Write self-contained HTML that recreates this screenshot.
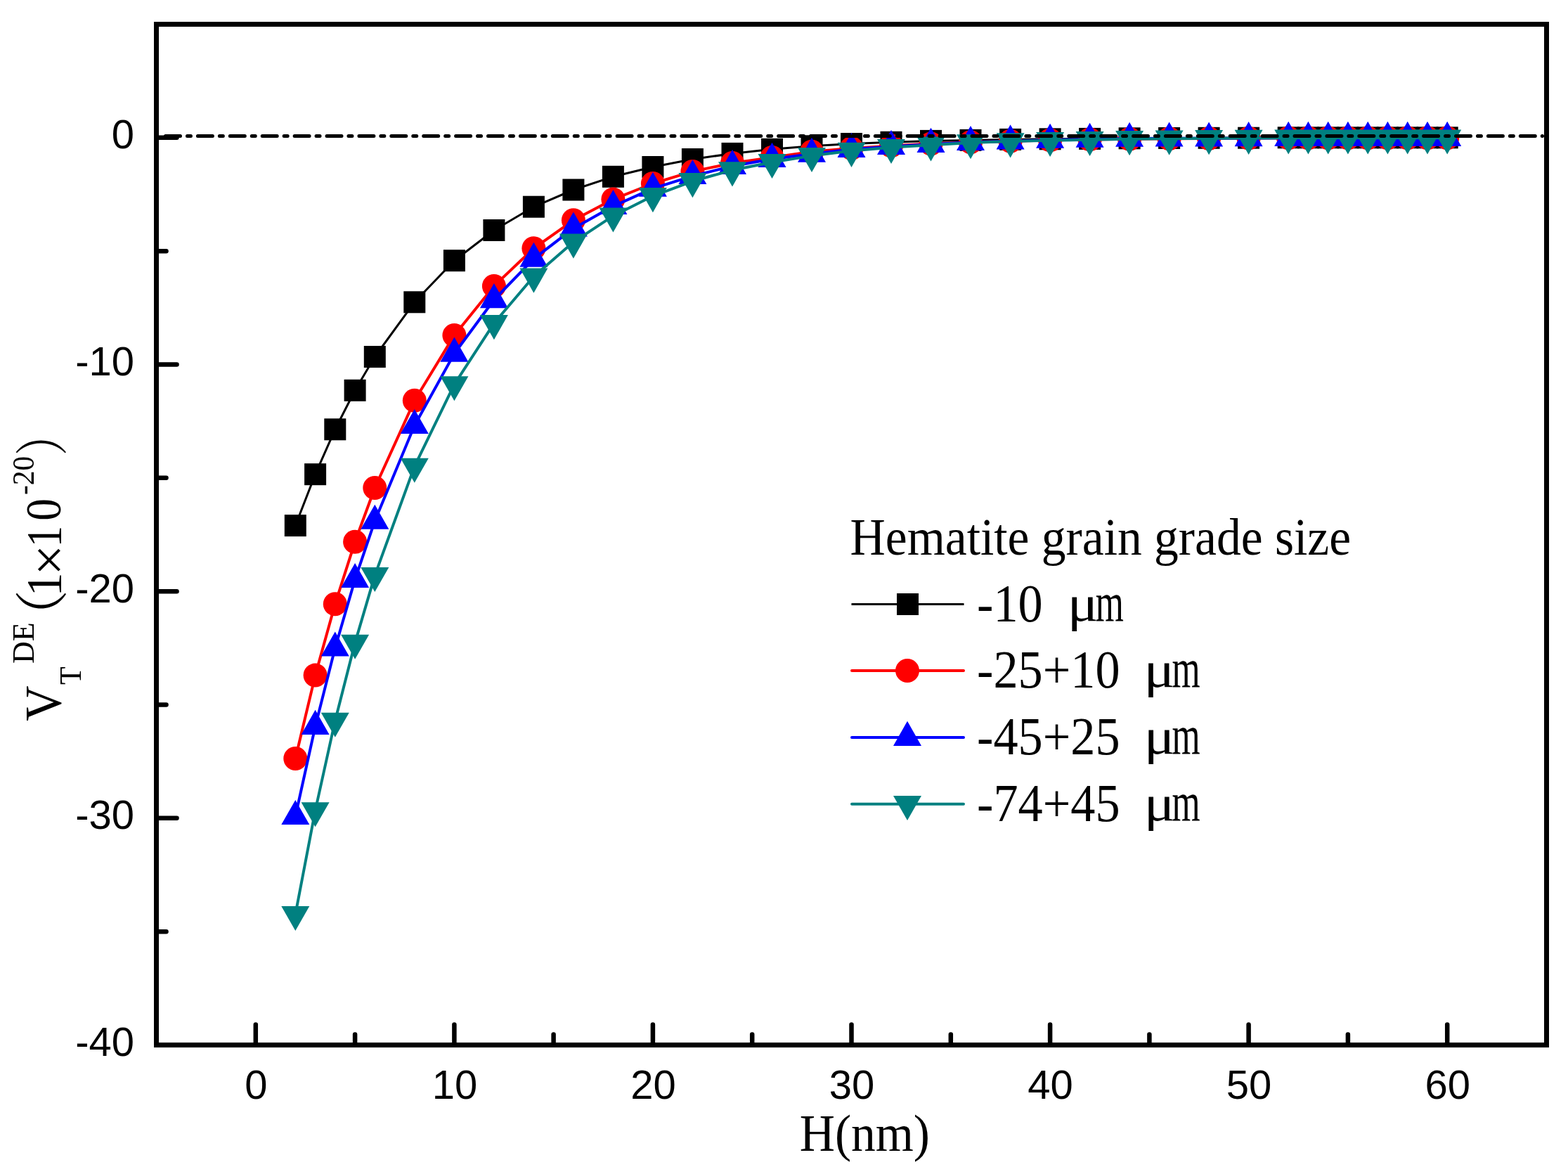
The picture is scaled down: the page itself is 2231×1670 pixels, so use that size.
<!DOCTYPE html>
<html><head><meta charset="utf-8"><title>V_T^DE vs H</title>
<style>html,body{margin:0;padding:0;background:#fff;}svg{display:block;}</style></head>
<body><svg width="2231" height="1670" viewBox="0 0 2231 1670">
<rect width="2231" height="1670" fill="#fff"/>
<polyline points="420.3,747.6 448.6,674.7 476.8,610.8 505.1,555.3 533.3,507.5 589.8,429.8 646.4,370.7 702.9,327.5 759.4,294.2 815.9,270.0 872.4,251.3 928.9,237.5 985.4,226.5 1042.0,218.4 1098.5,212.3 1155.0,207.8 1211.5,204.5 1268.0,202.3 1324.5,200.4 1381.0,199.4 1437.6,198.4 1494.1,197.8 1550.6,197.4 1607.1,196.8 1663.6,196.5 1720.1,196.3 1776.6,196.2 1833.2,195.8 1861.4,195.8 1889.7,195.8 1917.9,195.8 1946.2,195.8 1974.4,195.8 2002.7,195.8 2031.0,195.8 2059.2,195.8" fill="none" stroke="#000000" stroke-width="3" stroke-linejoin="round" stroke-linecap="round"/>
<rect x="404.8" y="732.1" width="31" height="31" fill="#000000"/>
<rect x="433.1" y="659.2" width="31" height="31" fill="#000000"/>
<rect x="461.3" y="595.3" width="31" height="31" fill="#000000"/>
<rect x="489.6" y="539.8" width="31" height="31" fill="#000000"/>
<rect x="517.8" y="492.0" width="31" height="31" fill="#000000"/>
<rect x="574.3" y="414.3" width="31" height="31" fill="#000000"/>
<rect x="630.9" y="355.2" width="31" height="31" fill="#000000"/>
<rect x="687.4" y="312.0" width="31" height="31" fill="#000000"/>
<rect x="743.9" y="278.7" width="31" height="31" fill="#000000"/>
<rect x="800.4" y="254.5" width="31" height="31" fill="#000000"/>
<rect x="856.9" y="235.8" width="31" height="31" fill="#000000"/>
<rect x="913.4" y="222.0" width="31" height="31" fill="#000000"/>
<rect x="969.9" y="211.0" width="31" height="31" fill="#000000"/>
<rect x="1026.5" y="202.9" width="31" height="31" fill="#000000"/>
<rect x="1083.0" y="196.8" width="31" height="31" fill="#000000"/>
<rect x="1139.5" y="192.3" width="31" height="31" fill="#000000"/>
<rect x="1196.0" y="189.0" width="31" height="31" fill="#000000"/>
<rect x="1252.5" y="186.8" width="31" height="31" fill="#000000"/>
<rect x="1309.0" y="184.9" width="31" height="31" fill="#000000"/>
<rect x="1365.5" y="183.9" width="31" height="31" fill="#000000"/>
<rect x="1422.1" y="182.9" width="31" height="31" fill="#000000"/>
<rect x="1478.6" y="182.3" width="31" height="31" fill="#000000"/>
<rect x="1535.1" y="181.9" width="31" height="31" fill="#000000"/>
<rect x="1591.6" y="181.3" width="31" height="31" fill="#000000"/>
<rect x="1648.1" y="181.0" width="31" height="31" fill="#000000"/>
<rect x="1704.6" y="180.8" width="31" height="31" fill="#000000"/>
<rect x="1761.1" y="180.7" width="31" height="31" fill="#000000"/>
<rect x="1817.7" y="180.3" width="31" height="31" fill="#000000"/>
<rect x="1845.9" y="180.3" width="31" height="31" fill="#000000"/>
<rect x="1874.2" y="180.3" width="31" height="31" fill="#000000"/>
<rect x="1902.4" y="180.3" width="31" height="31" fill="#000000"/>
<rect x="1930.7" y="180.3" width="31" height="31" fill="#000000"/>
<rect x="1958.9" y="180.3" width="31" height="31" fill="#000000"/>
<rect x="1987.2" y="180.3" width="31" height="31" fill="#000000"/>
<rect x="2015.5" y="180.3" width="31" height="31" fill="#000000"/>
<rect x="2043.7" y="180.3" width="31" height="31" fill="#000000"/>
<polyline points="420.3,1079.0 448.6,960.6 476.8,859.2 505.1,770.8 533.3,694.0 589.8,569.8 646.4,476.9 702.9,406.9 759.4,353.3 815.9,313.3 872.4,283.6 928.9,261.0 985.4,243.9 1042.0,232.0 1098.5,223.9 1155.0,215.8 1211.5,211.0 1268.0,207.4 1324.5,204.5 1381.0,202.3 1437.6,200.7 1494.1,199.4 1550.6,198.4 1607.1,197.8 1663.6,197.3 1720.1,197.0 1776.6,196.6 1833.2,196.2 1861.4,196.2 1889.7,196.2 1917.9,196.2 1946.2,196.2 1974.4,196.2 2002.7,196.2 2031.0,196.2 2059.2,196.2" fill="none" stroke="#FF0000" stroke-width="4" stroke-linejoin="round" stroke-linecap="round"/>
<circle cx="420.3" cy="1079.0" r="17" fill="#FF0000"/>
<circle cx="448.6" cy="960.6" r="17" fill="#FF0000"/>
<circle cx="476.8" cy="859.2" r="17" fill="#FF0000"/>
<circle cx="505.1" cy="770.8" r="17" fill="#FF0000"/>
<circle cx="533.3" cy="694.0" r="17" fill="#FF0000"/>
<circle cx="589.8" cy="569.8" r="17" fill="#FF0000"/>
<circle cx="646.4" cy="476.9" r="17" fill="#FF0000"/>
<circle cx="702.9" cy="406.9" r="17" fill="#FF0000"/>
<circle cx="759.4" cy="353.3" r="17" fill="#FF0000"/>
<circle cx="815.9" cy="313.3" r="17" fill="#FF0000"/>
<circle cx="872.4" cy="283.6" r="17" fill="#FF0000"/>
<circle cx="928.9" cy="261.0" r="17" fill="#FF0000"/>
<circle cx="985.4" cy="243.9" r="17" fill="#FF0000"/>
<circle cx="1042.0" cy="232.0" r="17" fill="#FF0000"/>
<circle cx="1098.5" cy="223.9" r="17" fill="#FF0000"/>
<circle cx="1155.0" cy="215.8" r="17" fill="#FF0000"/>
<circle cx="1211.5" cy="211.0" r="17" fill="#FF0000"/>
<circle cx="1268.0" cy="207.4" r="17" fill="#FF0000"/>
<circle cx="1324.5" cy="204.5" r="17" fill="#FF0000"/>
<circle cx="1381.0" cy="202.3" r="17" fill="#FF0000"/>
<circle cx="1437.6" cy="200.7" r="17" fill="#FF0000"/>
<circle cx="1494.1" cy="199.4" r="17" fill="#FF0000"/>
<circle cx="1550.6" cy="198.4" r="17" fill="#FF0000"/>
<circle cx="1607.1" cy="197.8" r="17" fill="#FF0000"/>
<circle cx="1663.6" cy="197.3" r="17" fill="#FF0000"/>
<circle cx="1720.1" cy="197.0" r="17" fill="#FF0000"/>
<circle cx="1776.6" cy="196.6" r="17" fill="#FF0000"/>
<circle cx="1833.2" cy="196.2" r="17" fill="#FF0000"/>
<circle cx="1861.4" cy="196.2" r="17" fill="#FF0000"/>
<circle cx="1889.7" cy="196.2" r="17" fill="#FF0000"/>
<circle cx="1917.9" cy="196.2" r="17" fill="#FF0000"/>
<circle cx="1946.2" cy="196.2" r="17" fill="#FF0000"/>
<circle cx="1974.4" cy="196.2" r="17" fill="#FF0000"/>
<circle cx="2002.7" cy="196.2" r="17" fill="#FF0000"/>
<circle cx="2031.0" cy="196.2" r="17" fill="#FF0000"/>
<circle cx="2059.2" cy="196.2" r="17" fill="#FF0000"/>
<polyline points="420.3,1161.3 448.6,1033.2 476.8,921.8 505.1,824.4 533.3,741.1 589.8,605.3 646.4,503.0 702.9,426.5 759.4,368.1 815.9,324.9 872.4,293.3 928.9,268.1 985.4,250.4 1042.0,236.2 1098.5,226.2 1155.0,219.1 1211.5,212.3 1268.0,208.4 1324.5,205.2 1381.0,202.3 1437.6,200.7 1494.1,199.1 1550.6,198.1 1607.1,197.1 1663.6,196.8 1720.1,196.8 1776.6,196.5 1833.2,196.2 1861.4,196.2 1889.7,196.2 1917.9,196.2 1946.2,196.2 1974.4,196.2 2002.7,196.2 2031.0,196.2 2059.2,196.2" fill="none" stroke="#0000FF" stroke-width="4" stroke-linejoin="round" stroke-linecap="round"/>
<path d="M420.3 1137.9L440.3 1173.0L400.3 1173.0Z" fill="#0000FF"/>
<path d="M448.6 1009.8L468.6 1044.9L428.6 1044.9Z" fill="#0000FF"/>
<path d="M476.8 898.4L496.8 933.5L456.8 933.5Z" fill="#0000FF"/>
<path d="M505.1 801.0L525.1 836.1L485.1 836.1Z" fill="#0000FF"/>
<path d="M533.3 717.7L553.3 752.8L513.3 752.8Z" fill="#0000FF"/>
<path d="M589.8 581.9L609.8 617.0L569.8 617.0Z" fill="#0000FF"/>
<path d="M646.4 479.6L666.4 514.7L626.4 514.7Z" fill="#0000FF"/>
<path d="M702.9 403.1L722.9 438.2L682.9 438.2Z" fill="#0000FF"/>
<path d="M759.4 344.7L779.4 379.8L739.4 379.8Z" fill="#0000FF"/>
<path d="M815.9 301.5L835.9 336.6L795.9 336.6Z" fill="#0000FF"/>
<path d="M872.4 269.9L892.4 305.0L852.4 305.0Z" fill="#0000FF"/>
<path d="M928.9 244.7L948.9 279.8L908.9 279.8Z" fill="#0000FF"/>
<path d="M985.4 227.0L1005.4 262.1L965.4 262.1Z" fill="#0000FF"/>
<path d="M1042.0 212.8L1062.0 247.9L1022.0 247.9Z" fill="#0000FF"/>
<path d="M1098.5 202.8L1118.5 237.9L1078.5 237.9Z" fill="#0000FF"/>
<path d="M1155.0 195.7L1175.0 230.8L1135.0 230.8Z" fill="#0000FF"/>
<path d="M1211.5 188.9L1231.5 224.0L1191.5 224.0Z" fill="#0000FF"/>
<path d="M1268.0 185.0L1288.0 220.1L1248.0 220.1Z" fill="#0000FF"/>
<path d="M1324.5 181.8L1344.5 216.9L1304.5 216.9Z" fill="#0000FF"/>
<path d="M1381.0 178.9L1401.0 214.0L1361.0 214.0Z" fill="#0000FF"/>
<path d="M1437.6 177.3L1457.6 212.4L1417.6 212.4Z" fill="#0000FF"/>
<path d="M1494.1 175.7L1514.1 210.8L1474.1 210.8Z" fill="#0000FF"/>
<path d="M1550.6 174.7L1570.6 209.8L1530.6 209.8Z" fill="#0000FF"/>
<path d="M1607.1 173.7L1627.1 208.8L1587.1 208.8Z" fill="#0000FF"/>
<path d="M1663.6 173.4L1683.6 208.5L1643.6 208.5Z" fill="#0000FF"/>
<path d="M1720.1 173.4L1740.1 208.5L1700.1 208.5Z" fill="#0000FF"/>
<path d="M1776.6 173.1L1796.6 208.2L1756.6 208.2Z" fill="#0000FF"/>
<path d="M1833.2 172.8L1853.2 207.9L1813.2 207.9Z" fill="#0000FF"/>
<path d="M1861.4 172.8L1881.4 207.9L1841.4 207.9Z" fill="#0000FF"/>
<path d="M1889.7 172.8L1909.7 207.9L1869.7 207.9Z" fill="#0000FF"/>
<path d="M1917.9 172.8L1937.9 207.9L1897.9 207.9Z" fill="#0000FF"/>
<path d="M1946.2 172.8L1966.2 207.9L1926.2 207.9Z" fill="#0000FF"/>
<path d="M1974.4 172.8L1994.4 207.9L1954.4 207.9Z" fill="#0000FF"/>
<path d="M2002.7 172.8L2022.7 207.9L1982.7 207.9Z" fill="#0000FF"/>
<path d="M2031.0 172.8L2051.0 207.9L2011.0 207.9Z" fill="#0000FF"/>
<path d="M2059.2 172.8L2079.2 207.9L2039.2 207.9Z" fill="#0000FF"/>
<polyline points="420.3,1300.6 448.6,1152.9 476.8,1025.4 505.1,914.4 533.3,818.6 589.8,663.4 646.4,546.9 702.9,459.8 759.4,393.3 815.9,344.3 872.4,307.2 928.9,278.8 985.4,257.8 1042.0,242.0 1098.5,230.7 1155.0,221.6 1211.5,214.5 1268.0,209.7 1324.5,206.2 1381.0,202.9 1437.6,201.0 1494.1,199.7 1550.6,198.7 1607.1,197.8 1663.6,197.3 1720.1,196.8 1776.6,196.5 1833.2,196.2 1861.4,196.2 1889.7,196.2 1917.9,196.2 1946.2,196.2 1974.4,196.2 2002.7,196.2 2031.0,196.2 2059.2,196.2" fill="none" stroke="#008080" stroke-width="4" stroke-linejoin="round" stroke-linecap="round"/>
<path d="M420.3 1324.0L440.3 1288.9L400.3 1288.9Z" fill="#008080"/>
<path d="M448.6 1176.3L468.6 1141.2L428.6 1141.2Z" fill="#008080"/>
<path d="M476.8 1048.8L496.8 1013.7L456.8 1013.7Z" fill="#008080"/>
<path d="M505.1 937.8L525.1 902.7L485.1 902.7Z" fill="#008080"/>
<path d="M533.3 842.0L553.3 806.9L513.3 806.9Z" fill="#008080"/>
<path d="M589.8 686.8L609.8 651.7L569.8 651.7Z" fill="#008080"/>
<path d="M646.4 570.3L666.4 535.2L626.4 535.2Z" fill="#008080"/>
<path d="M702.9 483.2L722.9 448.1L682.9 448.1Z" fill="#008080"/>
<path d="M759.4 416.7L779.4 381.6L739.4 381.6Z" fill="#008080"/>
<path d="M815.9 367.7L835.9 332.6L795.9 332.6Z" fill="#008080"/>
<path d="M872.4 330.6L892.4 295.5L852.4 295.5Z" fill="#008080"/>
<path d="M928.9 302.2L948.9 267.1L908.9 267.1Z" fill="#008080"/>
<path d="M985.4 281.2L1005.4 246.1L965.4 246.1Z" fill="#008080"/>
<path d="M1042.0 265.4L1062.0 230.3L1022.0 230.3Z" fill="#008080"/>
<path d="M1098.5 254.1L1118.5 219.0L1078.5 219.0Z" fill="#008080"/>
<path d="M1155.0 245.0L1175.0 209.9L1135.0 209.9Z" fill="#008080"/>
<path d="M1211.5 237.9L1231.5 202.8L1191.5 202.8Z" fill="#008080"/>
<path d="M1268.0 233.1L1288.0 198.0L1248.0 198.0Z" fill="#008080"/>
<path d="M1324.5 229.6L1344.5 194.5L1304.5 194.5Z" fill="#008080"/>
<path d="M1381.0 226.3L1401.0 191.2L1361.0 191.2Z" fill="#008080"/>
<path d="M1437.6 224.4L1457.6 189.3L1417.6 189.3Z" fill="#008080"/>
<path d="M1494.1 223.1L1514.1 188.0L1474.1 188.0Z" fill="#008080"/>
<path d="M1550.6 222.1L1570.6 187.0L1530.6 187.0Z" fill="#008080"/>
<path d="M1607.1 221.2L1627.1 186.1L1587.1 186.1Z" fill="#008080"/>
<path d="M1663.6 220.7L1683.6 185.6L1643.6 185.6Z" fill="#008080"/>
<path d="M1720.1 220.2L1740.1 185.1L1700.1 185.1Z" fill="#008080"/>
<path d="M1776.6 219.9L1796.6 184.8L1756.6 184.8Z" fill="#008080"/>
<path d="M1833.2 219.6L1853.2 184.5L1813.2 184.5Z" fill="#008080"/>
<path d="M1861.4 219.6L1881.4 184.5L1841.4 184.5Z" fill="#008080"/>
<path d="M1889.7 219.6L1909.7 184.5L1869.7 184.5Z" fill="#008080"/>
<path d="M1917.9 219.6L1937.9 184.5L1897.9 184.5Z" fill="#008080"/>
<path d="M1946.2 219.6L1966.2 184.5L1926.2 184.5Z" fill="#008080"/>
<path d="M1974.4 219.6L1994.4 184.5L1954.4 184.5Z" fill="#008080"/>
<path d="M2002.7 219.6L2022.7 184.5L1982.7 184.5Z" fill="#008080"/>
<path d="M2031.0 219.6L2051.0 184.5L2011.0 184.5Z" fill="#008080"/>
<path d="M2059.2 219.6L2079.2 184.5L2039.2 184.5Z" fill="#008080"/>
<line x1="235.5" y1="193.5" x2="2194.5" y2="193.5" stroke="#000" stroke-width="5" stroke-linecap="round" stroke-dasharray="21 9.95 5 9.95"/>
<rect x="222.5" y="34.5" width="1978" height="1452" fill="none" stroke="#000" stroke-width="7"/>
<g stroke="#000" stroke-width="6.5" stroke-linecap="round"><line x1="363.8" y1="1483" x2="363.8" y2="1457.5"/><line x1="646.4" y1="1483" x2="646.4" y2="1457.5"/><line x1="928.9" y1="1483" x2="928.9" y2="1457.5"/><line x1="1211.5" y1="1483" x2="1211.5" y2="1457.5"/><line x1="1494.1" y1="1483" x2="1494.1" y2="1457.5"/><line x1="1776.6" y1="1483" x2="1776.6" y2="1457.5"/><line x1="2059.2" y1="1483" x2="2059.2" y2="1457.5"/><line x1="505.1" y1="1483" x2="505.1" y2="1471.5"/><line x1="787.6" y1="1483" x2="787.6" y2="1471.5"/><line x1="1070.2" y1="1483" x2="1070.2" y2="1471.5"/><line x1="1352.8" y1="1483" x2="1352.8" y2="1471.5"/><line x1="1635.4" y1="1483" x2="1635.4" y2="1471.5"/><line x1="1917.9" y1="1483" x2="1917.9" y2="1471.5"/><line x1="226" y1="195.8" x2="251.5" y2="195.8"/><line x1="226" y1="518.5" x2="251.5" y2="518.5"/><line x1="226" y1="841.2" x2="251.5" y2="841.2"/><line x1="226" y1="1163.8" x2="251.5" y2="1163.8"/><line x1="226" y1="357.2" x2="236.5" y2="357.2"/><line x1="226" y1="679.8" x2="236.5" y2="679.8"/><line x1="226" y1="1002.5" x2="236.5" y2="1002.5"/><line x1="226" y1="1325.2" x2="236.5" y2="1325.2"/></g>
<g font-family="Liberation Sans, Arial, sans-serif" font-size="58" fill="#000"><text x="191" y="211.3" text-anchor="end">0</text><text x="191" y="534.0" text-anchor="end">-10</text><text x="191" y="856.7" text-anchor="end">-20</text><text x="191" y="1179.3" text-anchor="end">-30</text><text x="191" y="1502.0" text-anchor="end">-40</text><text x="364.3" y="1563.3" text-anchor="middle">0</text><text x="646.9" y="1563.3" text-anchor="middle">10</text><text x="929.4" y="1563.3" text-anchor="middle">20</text><text x="1212.0" y="1563.3" text-anchor="middle">30</text><text x="1494.6" y="1563.3" text-anchor="middle">40</text><text x="1777.1" y="1563.3" text-anchor="middle">50</text><text x="2059.7" y="1563.3" text-anchor="middle">60</text></g>
<g font-family="Liberation Serif, 'Times New Roman', serif" fill="#000" style="white-space:pre"><text transform="translate(1137.7,1637.1) scale(0.933,1)" font-size="74.5" >H(nm)</text><text transform="translate(1209.6,788.8) scale(0.936,1)" font-size="74.3" >Hematite grain grade size</text><text transform="translate(1390.0,884.2) scale(0.92,1)" font-size="76.4" >-10</text><text transform="translate(1518.7,883.3) scale(1.157,1)" font-size="71" >μ</text><text transform="translate(1558.8,883.3) scale(0.653,1)" font-size="79" >m</text><text transform="translate(1390.0,978.0) scale(0.92,1)" font-size="76.4" >-25+10</text><text transform="translate(1627.4,977.1) scale(1.157,1)" font-size="71" >μ</text><text transform="translate(1667.6,977.1) scale(0.653,1)" font-size="79" >m</text><text transform="translate(1390.0,1073.3) scale(0.92,1)" font-size="76.4" >-45+25</text><text transform="translate(1627.8,1072.2) scale(1.157,1)" font-size="71" >μ</text><text transform="translate(1667.4,1072.2) scale(0.653,1)" font-size="79" >m</text><text transform="translate(1390.0,1168.0) scale(0.92,1)" font-size="76.4" >-74+45</text><text transform="translate(1627.8,1167.2) scale(1.157,1)" font-size="71" >μ</text><text transform="translate(1667.4,1167.2) scale(0.653,1)" font-size="79" >m</text><text transform="translate(86.5,1025.7) rotate(-90) scale(0.933,1)" font-size="74.5" >V</text><text transform="translate(114.8,974.1) rotate(-90) scale(0.933,1)" font-size="45" >T</text><text transform="translate(48.4,944.0) rotate(-90) scale(0.98,1)" font-size="45" >DE</text><text transform="translate(86.7,915.3) rotate(-90) scale(1.0,1)" font-size="76.3" font-family="Liberation Serif, 'Noto Serif CJK SC', serif">（</text><text transform="translate(86.9,848.5) rotate(-90) scale(0.95,1)" font-size="72" >1</text><text transform="translate(95.6,818.8) rotate(-90) scale(1.0,1)" font-size="78" >×</text><text transform="translate(86.9,778.2) rotate(-90) scale(0.845,1)" font-size="72" >1</text><text transform="translate(86.3,740.7) rotate(-90) scale(0.88,1)" font-size="72" >0</text><text transform="translate(47.5,704.0) rotate(-90) scale(0.93,1)" font-size="44.5" >-20</text><text transform="translate(86.7,648.2) rotate(-90) scale(0.82,1)" font-size="76.3" font-family="Liberation Serif, 'Noto Serif CJK SC', serif">）</text></g>
<line x1="1211.5" y1="859.5" x2="1371.5" y2="859.5" stroke="#000" stroke-width="3"/><rect x="1276.0" y="844.0" width="31" height="31" fill="#000000"/><line x1="1212" y1="954" x2="1371" y2="954" stroke="#FF0000" stroke-width="4" stroke-linecap="round"/><circle cx="1291.0" cy="954.0" r="17" fill="#FF0000"/><line x1="1212" y1="1048.9" x2="1371" y2="1048.9" stroke="#0000FF" stroke-width="4" stroke-linecap="round"/><path d="M1291.0 1025.8L1311.0 1060.9L1271.0 1060.9Z" fill="#0000FF"/><line x1="1212" y1="1143.7" x2="1371" y2="1143.7" stroke="#008080" stroke-width="4" stroke-linecap="round"/><path d="M1291.0 1167.0L1311.0 1131.9L1271.0 1131.9Z" fill="#008080"/>
</svg></body></html>
